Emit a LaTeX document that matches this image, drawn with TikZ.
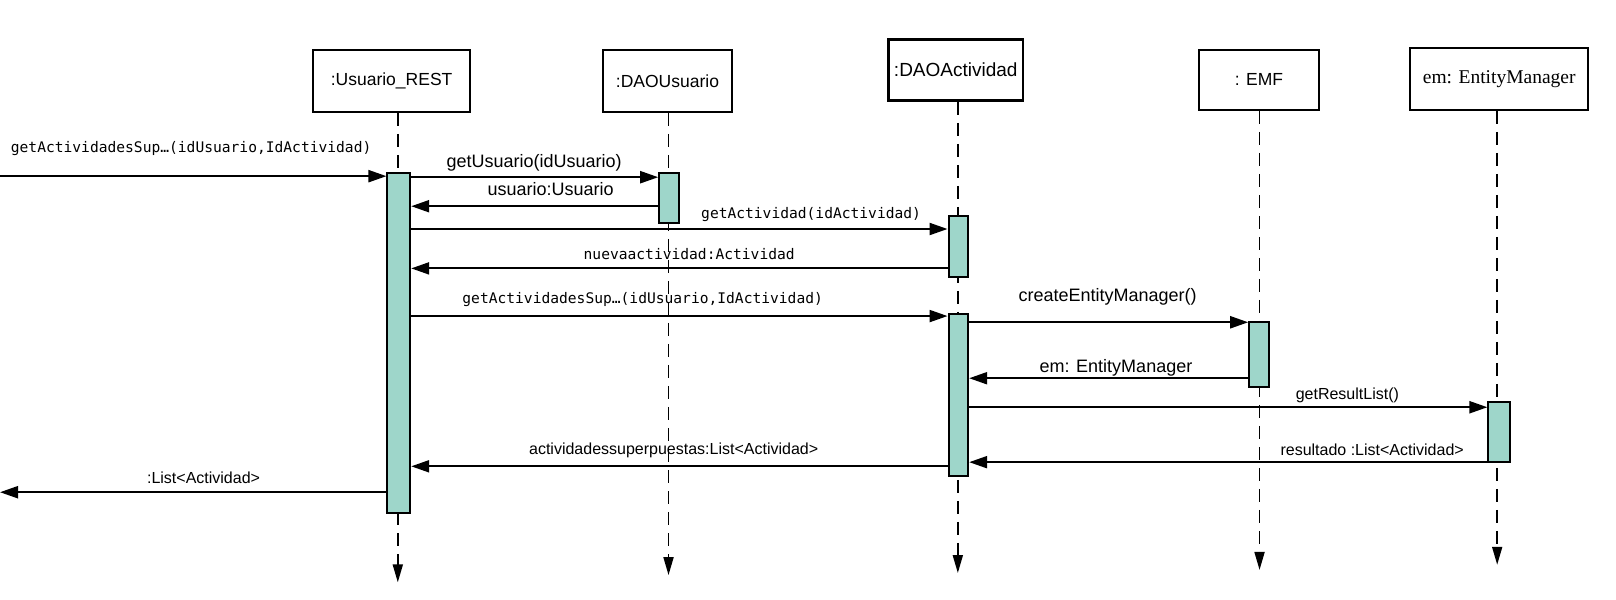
\documentclass[tikz,border=0pt]{standalone}
\usepackage{fontspec}
\setmainfont{Liberation Sans}
\newfontfamily\monof{DejaVu Sans Mono}
\newfontfamily\serf{Liberation Serif}
\usetikzlibrary{arrows.meta}
\definecolor{actfill}{HTML}{9ED6CA}
\begin{document}
\begin{tikzpicture}[x=1.033pt,y=-1.036pt,
 objbox/.style={draw,line width=2pt,fill=white,inner sep=0pt,font=\fontsize{17.5}{20}\selectfont},
 life/.style={line width=1.8pt,dash pattern=on 13pt off 8pt,-{Triangle[length=18pt,width=10pt]}},
 actbox/.style={draw,line width=2pt,fill=actfill},
 msg/.style={line width=2.1pt,-{Triangle[length=18pt,width=12pt]}},
 lblbig/.style={font=\fontsize{18}{20}\selectfont,inner sep=0pt,anchor=base},
 lbl/.style={font=\fontsize{16}{18}\selectfont,inner sep=0pt,anchor=base},
 lblmono/.style={font=\monof\fontsize{14.6}{17}\selectfont,inner sep=0pt,anchor=base}]
\useasboundingbox (0,0) rectangle (1564,579);
% object boxes
\node[objbox,minimum width=152*1.033pt,minimum height=60*1.036pt] (ur) at (379,78) {:Usuario\_REST};
\node[objbox,minimum width=124*1.033pt,minimum height=60*1.036pt] (du) at (646,78) {:DAOUsuario};
\node[objbox,line width=2.6pt,minimum width=130*1.033pt,minimum height=59*1.036pt,font=\fontsize{19}{20}\selectfont] (da) at (925,67.5) {:DAOActividad};
\node[objbox,minimum width=117*1.033pt,minimum height=58*1.036pt] (emf) at (1218.5,77) {: EMF};
\node[objbox,minimum width=172*1.033pt,minimum height=60*1.036pt,font=\serf\fontsize{19.5}{22}\selectfont] (em) at (1451,76) {em: EntityManager};
% lifeline ends
\coordinate (urE) at (385,562);
\coordinate (duE) at (647,555);
\coordinate (daE) at (927,553);
\coordinate (emfE) at (1219,550);
\coordinate (emE) at (1449,545);
\draw[life] (ur.south -| urE) -- (urE);
\draw[life] (du.south -| duE) -- (duE);
\draw[life] (da.south -| daE) -- (daE);
\draw[life] (emf.south -| emfE) -- (emfE);
\draw[life] (em.south -| emE) -- (emE);
% activations
\node[actbox,inner sep=0pt,minimum width=22*1.033pt,minimum height=328*1.036pt] (a1) at (386,331) {};
\node[actbox,inner sep=0pt,minimum width=19*1.033pt,minimum height=48*1.036pt] (a2) at (647.5,191) {};
\node[actbox,inner sep=0pt,minimum width=19*1.033pt,minimum height=59*1.036pt] (a3) at (927.5,237.5) {};
\node[actbox,inner sep=0pt,minimum width=19*1.033pt,minimum height=156*1.036pt] (a4) at (927.5,381) {};
\node[actbox,inner sep=0pt,minimum width=19*1.033pt,minimum height=62*1.036pt] (a5) at (1218.5,342) {};
\node[actbox,inner sep=0pt,minimum width=21*1.033pt,minimum height=58*1.036pt] (a6) at (1451,417) {};
% messages
\coordinate (start) at (0,170);
\coordinate (finish) at (0,475);
\draw[msg] (start) -- (a1.west |- start);
\draw[msg] (a1.east |- 0,171) -- (a2.west |- 0,171);
\draw[msg] (a2.west |- 0,199) -- (a1.east |- 0,199);
\draw[msg] (a1.east |- 0,221) -- (a3.west |- 0,221);
\draw[msg] (a3.west |- 0,259) -- (a1.east |- 0,259);
\draw[msg] (a1.east |- 0,305) -- (a4.west |- 0,305);
\draw[msg] (a4.east |- 0,311) -- (a5.west |- 0,311);
\draw[msg] (a5.west |- 0,365) -- (a4.east |- 0,365);
\draw[msg] (a4.east |- 0,393) -- (a6.west |- 0,393);
\draw[msg] (a6.west |- 0,446) -- (a4.east |- 0,446);
\draw[msg] (a4.west |- 0,450) -- (a1.east |- 0,450);
\draw[msg] (a1.west |- finish) -- (finish);
% labels
\node[lblmono] (l0) at (185,147) {getActividadesSup…(idUsuario,IdActividad)};
\node[lblbig] (l1) at (517,162) {getUsuario(idUsuario)};
\node[lblbig] (l2) at (533,189) {usuario:Usuario};
\node[lblmono] (l3) at (785,211) {getActividad(idActividad)};
\node[lblmono] (l4) at (667,250) {nuevaactividad:Actividad};
\node[lblmono] (l5) at (622,293) {getActividadesSup…(idUsuario,IdActividad)};
\node[lblbig] (l6) at (1072,291) {createEntityManager()};
\node[lblbig] (l7) at (1080,359) {em: EntityManager};
\node[lbl] (l8) at (1304,386) {getResultList()};
\node[lbl] (l9) at (1328,440) {resultado :List<Actividad>};
\node[lbl] (l10) at (652,439) {actividadessuperpuestas:List<Actividad>};
\node[lbl] (l11) at (197,467) {:List<Actividad>};
\end{tikzpicture}
\end{document}
